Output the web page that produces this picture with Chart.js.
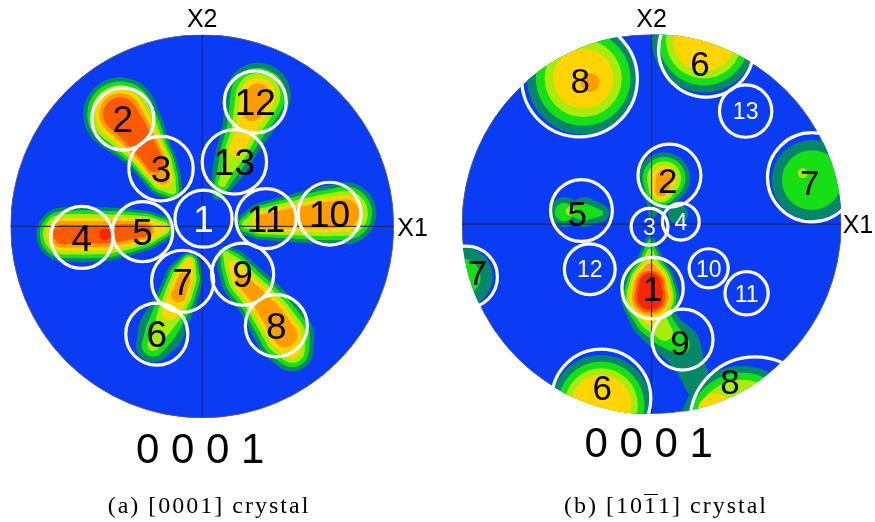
<!DOCTYPE html>
<html>
<head>
<meta charset="utf-8">
<script src="https://cdn.jsdelivr.net/npm/chart.js@4/dist/chart.umd.min.js"></script>
<style>
  html, body { margin: 0; padding: 0; background: #fff; }
  #wrap { position: relative; width: 875px; height: 522px; overflow: hidden; }
  #wrap canvas { position: absolute; top: 0; }
  .cap {
    position: absolute; top: 493px; white-space: nowrap; color: #000;
    font-family: "Liberation Serif", "Times New Roman", serif;
    font-size: 24px; line-height: 24px; letter-spacing: 2px;
    transform: translateX(-50%);
  }
  .bar {
    display: inline-block; border-top: 1.2px solid #000;
    line-height: 18px; padding-top: 1px;
  }
</style>
</head>
<body>
<div id="wrap">
  <canvas id="poleA" width="437" height="522" style="left:0"></canvas>
  <canvas id="poleB" width="438" height="522" style="left:437px"></canvas>
  <div class="cap" style="left:209px">(a) [0001] crystal</div>
  <div class="cap" style="left:666px">(b) [10<span class="bar">1</span>1] crystal</div>
</div>
<script>
// Projection coordinates: the pole-figure circle has radius 1.

// Contour fill colours, lowest density level first.
const LEVEL_COLORS = ['#07876a', '#16df16', '#a8ec0c', '#ffd400', '#ff9c00', '#ff5a00', '#ff2400'];

// ---- (a) [0001] crystal ----
// Marked variants: [label, x, y, radius]
const aMarkers = [
  ['1', 0.007, 0.040, 0.149],
  ['2', -0.414, 0.560, 0.162],
  ['3', -0.215, 0.301, 0.168],
  ['4', -0.628, -0.058, 0.162],
  ['5', -0.311, -0.028, 0.157],
  ['6', -0.237, -0.563, 0.162],
  ['7', -0.102, -0.287, 0.162],
  ['8', 0.387, -0.519, 0.162],
  ['9', 0.211, -0.250, 0.162],
  ['10', 0.665, 0.066, 0.164],
  ['11', 0.333, 0.040, 0.157],
  ['12', 0.277, 0.649, 0.162],
  ['13', 0.168, 0.336, 0.168]
];
// Density ridges, each an ordered chain of nodes:
// [x, y, outer radius, peak radius, peak level]
const aRidge23 = [
  [-0.428, 0.585, 0.193, 0.089, 5],
  [-0.360, 0.501, 0.162, 0.073, 5],
  [-0.298, 0.413, 0.128, 0.057, 5],
  [-0.245, 0.329, 0.112, 0.047, 5],
  [-0.204, 0.251, 0.094, 0.034, 4],
  [-0.157, 0.188, 0.052, 0.021, 2]
];
const aRidge45 = [
  [-0.726, -0.042, 0.140, 0.052, 5],
  [-0.611, -0.042, 0.145, 0.047, 5],
  [-0.507, -0.042, 0.140, 0.031, 6],
  [-0.402, -0.031, 0.125, 0.042, 5],
  [-0.298, -0.021, 0.102, 0.031, 5],
  [-0.204, -0.010, 0.063, 0.021, 3]
];
const aRidge1011 = [
  [0.747, 0.068, 0.162, 0.073, 4],
  [0.642, 0.057, 0.151, 0.068, 4],
  [0.527, 0.047, 0.133, 0.057, 4],
  [0.418, 0.037, 0.115, 0.047, 4],
  [0.313, 0.026, 0.097, 0.037, 4],
  [0.230, 0.010, 0.057, 0.021, 2]
];
const aRidge1213 = [
  [0.292, 0.684, 0.170, 0.063, 4],
  [0.261, 0.595, 0.146, 0.047, 4],
  [0.219, 0.491, 0.118, 0.042, 3],
  [0.178, 0.397, 0.102, 0.037, 3],
  [0.141, 0.308, 0.086, 0.031, 2],
  [0.104, 0.225, 0.057, 0.021, 2],
  [0.084, 0.167, 0.031, 0.016, 1]
];
const aRidge89 = [
  [0.470, -0.648, 0.110, 0.042, 3],
  [0.433, -0.569, 0.150, 0.063, 4],
  [0.366, -0.465, 0.138, 0.057, 4],
  [0.292, -0.371, 0.120, 0.042, 4],
  [0.209, -0.282, 0.110, 0.031, 4],
  [0.162, -0.204, 0.084, 0.026, 3],
  [0.125, -0.146, 0.042, 0.016, 2]
];
const aRidge67 = [
  [-0.068, -0.188, 0.052, 0.021, 3],
  [-0.094, -0.272, 0.099, 0.031, 4],
  [-0.125, -0.360, 0.104, 0.037, 4],
  [-0.167, -0.449, 0.110, 0.040, 3],
  [-0.214, -0.543, 0.120, 0.042, 2],
  [-0.256, -0.621, 0.089, 0.030, 2]
];

// ---- (b) [10-11] crystal ----
// Marked variants: [label, x, y, radius, label x, label y]
const bMarkers = [
  ['1', 0.005, -0.338, 0.162],
  ['2', 0.094, 0.256, 0.166, 0.085, 0.230],
  ['3', -0.011, -0.014, 0.097],
  ['4', 0.154, 0.013, 0.097],
  ['5', -0.370, 0.072, 0.163, -0.392, 0.058],
  ['6', 0.287, 0.920, 0.250, 0.255, 0.847],
  ['6', -0.265, -0.920, 0.261, -0.261, -0.863],
  ['7', 0.846, 0.247, 0.235, 0.834, 0.221],
  ['7', -0.976, -0.279, 0.163, -0.918, -0.253],
  ['8', -0.380, 0.765, 0.305, -0.376, 0.758],
  ['8', 0.545, -1.042, 0.342, 0.413, -0.830],
  ['9', 0.163, -0.609, 0.161, 0.150, -0.626],
  ['10', 0.301, -0.233, 0.103],
  ['11', 0.501, -0.365, 0.114],
  ['12', -0.326, -0.238, 0.134],
  ['13', 0.496, 0.596, 0.138]
];
const bPeak8 = [
  [-0.361, 0.768, 0.295, 0.158, 3],
  [-0.324, 0.747, 0.050, 0.050, 4]
];
const bPeak6Top = [
  [0.276, 0.968, 0.274, 0.163, 3]
];
const bPeak6Low = [
  [-0.266, -0.953, 0.263, 0.158, 3]
];
const bPeak7Right = [
  [0.845, 0.232, 0.211, 0.158, 1],
  [0.797, 0.268, 0.026, 0.026, 2]
];
const bPeak7Left = [
  [-0.997, -0.279, 0.158, 0.095, 1]
];
const bPeak8Low = [
  [0.477, -1.074, 0.326, 0.253, 2]
];
const bPeak8LowEdge = [
  [0.339, -0.990, 0.095, 0.095, 3]
];
const bRidge19 = [
  [-0.008, -0.089, 0.026, 0.011, 1],
  [-0.008, -0.147, 0.047, 0.016, 2],
  [-0.008, -0.232, 0.084, 0.026, 4],
  [-0.008, -0.316, 0.132, 0.058, 6],
  [-0.008, -0.384, 0.153, 0.068, 6],
  [0.003, -0.495, 0.116, 0.042, 3],
  [0.071, -0.574, 0.105, 0.042, 2],
  [0.150, -0.637, 0.105, 0.053, 1],
  [0.203, -0.742, 0.079, 0.079, 0],
  [0.245, -0.847, 0.068, 0.068, 0]
];
const bRidge2 = [
  [0.066, 0.242, 0.137, 0.042, 4],
  [0.050, 0.179, 0.095, 0.032, 4],
  [0.018, 0.089, 0.032, 0.032, 0],
  [0.003, 0.053, 0.021, 0.021, 0]
];
const bPeak4 = [
  [0.139, 0.053, 0.053, 0.053, 0]
];
const bRidge5 = [
  [-0.461, 0.063, 0.079, 0.050, 1],
  [-0.429, 0.068, 0.024, 0.024, 2],
  [-0.355, 0.063, 0.079, 0.045, 1],
  [-0.271, 0.058, 0.047, 0.016, 1]
];

const aRidges = [aRidge23, aRidge45, aRidge1011, aRidge1213, aRidge89, aRidge67];
const bRidges = [bPeak8, bPeak6Top, bPeak6Low, bPeak7Right, bPeak7Left, bPeak8Low,
                 bPeak8LowEdge, bRidge19, bRidge2, bPeak4, bRidge5];

// ---------------------------------------------------------------------

const DISC_BLUE = '#0a3cf6';
const SANS = '"Liberation Sans", Arial, sans-serif';

// data-unit radius -> pixels through the x scale
function radiusPx(c) {
  if (!c.raw || c.raw.r === undefined) return 0;
  const s = c.chart.scales.x;
  return Math.abs(s.getPixelForValue(c.raw.r) - s.getPixelForValue(0));
}

// points of one density level; every node shrinks linearly toward its peak
function levelData(ridges, k) {
  const out = [];
  ridges.forEach((chain, ridge) => {
    chain.forEach(([x, y, ro, rc, top], step) => {
      if (top < k) return;
      const r = top === 0 ? ro : ro - (ro - rc) * k / top;
      out.push({ x, y, r, ridge, step });
    });
  });
  return out;
}

// joins neighbouring nodes of a ridge with the tangent hull of their circles
const ridgePlugin = {
  id: 'ridgeHull',
  afterDatasetDraw(chart, args) {
    const ds = chart.data.datasets[args.index];
    if (!ds.ridgeLevel) return;
    const pts = args.meta.data;
    const ctx = chart.ctx;
    ctx.save();
    ctx.fillStyle = ds.pointBackgroundColor;
    for (let i = 1; i < pts.length; i++) {
      const a = ds.data[i - 1], b = ds.data[i];
      if (a.ridge !== b.ridge || b.step !== a.step + 1) continue;
      const p = pts[i - 1], q = pts[i];
      const r1 = p.options.radius, r2 = q.options.radius;
      const dx = q.x - p.x, dy = q.y - p.y, d = Math.hypot(dx, dy);
      if (d <= Math.abs(r1 - r2) + 0.01) continue;
      const ux = dx / d, uy = dy / d, nx = -uy, ny = ux;
      const c = (r1 - r2) / d, s = Math.sqrt(Math.max(0, 1 - c * c));
      const m1x = c * ux + s * nx, m1y = c * uy + s * ny;
      const m2x = c * ux - s * nx, m2y = c * uy - s * ny;
      ctx.beginPath();
      ctx.moveTo(p.x + r1 * m1x, p.y + r1 * m1y);
      ctx.lineTo(q.x + r2 * m1x, q.y + r2 * m1y);
      ctx.lineTo(q.x + r2 * m2x, q.y + r2 * m2y);
      ctx.lineTo(p.x + r1 * m2x, p.y + r1 * m2y);
      ctx.closePath();
      ctx.fill();
    }
    ctx.restore();
  }
};

// clip everything inside the projection circle; names and pole label outside it
const polePlugin = {
  id: 'pole',
  beforeDatasetsDraw(chart) {
    const { x, y } = chart.scales;
    const cx = x.getPixelForValue(0), cy = y.getPixelForValue(0);
    const R = x.getPixelForValue(1) - cx;
    const ctx = chart.ctx;
    ctx.save();
    ctx.beginPath();
    ctx.arc(cx, cy, R + 0.6, 0, Math.PI * 2);
    ctx.clip();
  },
  afterDatasetsDraw(chart, args, opts) {
    const { x, y } = chart.scales;
    const ctx = chart.ctx;
    ctx.textAlign = 'center';
    ctx.textBaseline = 'alphabetic';
    for (const m of opts.markers) {
      const [label, mx, my, , lx, ly] = m;
      const light = opts.lightLabels.includes(label);
      const size = light ? opts.lightPx : opts.labelPx;
      ctx.font = size + 'px ' + SANS;
      ctx.fillStyle = light ? '#ffffff' : '#000000';
      const px = x.getPixelForValue(lx === undefined ? mx : lx);
      const py = y.getPixelForValue(ly === undefined ? my : ly);
      ctx.fillText(label, px, py + size * 0.358);
    }
    ctx.restore();

    const cx = x.getPixelForValue(0), cy = y.getPixelForValue(0);
    const R = x.getPixelForValue(1) - cx;
    ctx.save();
    ctx.fillStyle = '#000';
    ctx.font = '25px ' + SANS;
    ctx.textAlign = 'center';
    ctx.fillText('X2', cx + opts.x2[0], cy - R + opts.x2[1]);
    ctx.textAlign = 'left';
    ctx.fillText('X1', cx + R + opts.x1[0], cy + opts.x1[1]);
    ctx.textAlign = 'center';
    ctx.font = '42px ' + SANS;
    ctx.fillText(opts.pole, cx + opts.poleAt[0], cy + R + opts.poleAt[1]);
    ctx.restore();
  }
};

function buildPole(canvasId, markers, ridges, geo, labelOpts) {
  const canvas = document.getElementById(canvasId);
  const W = canvas.width, H = canvas.height;
  const datasets = [];

  datasets.push({
    data: [{ x: 0, y: 0, r: 1 }],
    pointRadius: radiusPx,
    pointBackgroundColor: DISC_BLUE,
    pointBorderColor: '#5b6275',
    pointBorderWidth: 1,
    order: 100
  });

  for (let k = 0; k < LEVEL_COLORS.length; k++) {
    datasets.push({
      ridgeLevel: true,
      data: levelData(ridges, k),
      pointRadius: radiusPx,
      pointBackgroundColor: LEVEL_COLORS[k],
      pointBorderWidth: 0,
      order: 50 - k
    });
  }

  const axisLine = { showLine: true, pointRadius: 0, borderColor: '#17225e', borderWidth: 1, order: 10 };
  datasets.push(Object.assign({ data: [{ x: -1, y: 0 }, { x: 1, y: 0 }] }, axisLine));
  datasets.push(Object.assign({ data: [{ x: 0, y: -1 }, { x: 0, y: 1 }] }, axisLine));

  datasets.push({
    data: markers.map(m => ({ x: m[1], y: m[2], r: m[3] })),
    pointRadius: radiusPx,
    pointBackgroundColor: 'rgba(0,0,0,0)',
    pointBorderColor: '#ffffff',
    pointBorderWidth: 3.2,
    order: 5
  });

  return new Chart(canvas, {
    type: 'scatter',
    data: { datasets },
    plugins: [polePlugin, ridgePlugin],
    options: {
      responsive: false,
      maintainAspectRatio: false,
      devicePixelRatio: 1,
      animation: false,
      events: [],
      layout: {
        padding: {
          left: geo.cx - geo.R,
          right: W - (geo.cx + geo.R),
          top: geo.cy - geo.R,
          bottom: H - (geo.cy + geo.R)
        }
      },
      scales: {
        x: { type: 'linear', min: -1, max: 1, display: false },
        y: { type: 'linear', min: -1, max: 1, display: false }
      },
      plugins: {
        legend: { display: false },
        tooltip: { enabled: false },
        pole: Object.assign({ markers }, labelOpts)
      }
    }
  });
}

buildPole('poleA', aMarkers, aRidges,
  { cx: 202.2, cy: 226.3, R: 191.6 },
  { lightLabels: ['1'], labelPx: 37, lightPx: 37, pole: '0 0 0 1',
    x2: [0, -8], x1: [3.5, 10], poleAt: [-2, 45] });

buildPole('poleB', bMarkers, bRidges,
  { cx: 214.6, cy: 224.1, R: 189.6 },
  { lightLabels: ['3', '4', '10', '11', '12', '13'], labelPx: 35, lightPx: 23, pole: '0 0 0 1',
    x2: [0, -8], x1: [1.5, 9], poleAt: [-3, 43.5] });
</script>
</body>
</html>
